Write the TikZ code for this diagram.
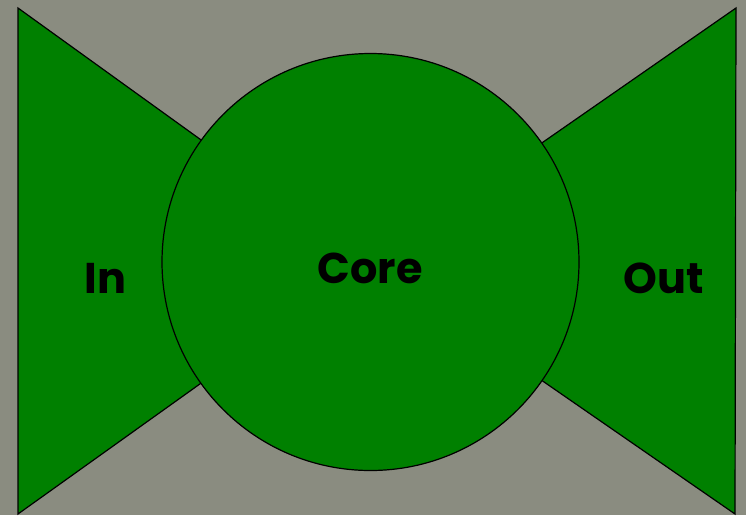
\documentclass[tikz,border=0pt]{standalone}
\usepackage{fontspec}
\setmainfont{Poppins}
\usepackage{xcolor}
\definecolor{stone}{RGB}{138,140,128}
\definecolor{leaf}{RGB}{0,128,0}

\begin{document}
\begin{tikzpicture}[x=1pt,y=-1pt,line join=miter]
\fill[stone] (0,0) rectangle (746,515);
\useasboundingbox (0,0) rectangle (746,515);
\coordinate (mid) at (370.5,262);
\coordinate (lt) at (18,8);
\coordinate (lb) at (18,514);
\coordinate (rt) at (736,8);
\coordinate (rb) at (735,514);
\filldraw[fill=leaf,draw=black,line width=1.2pt] (lt) -- (lb) -- (mid) -- cycle;
\filldraw[fill=leaf,draw=black,line width=1.2pt] (rt) -- (rb) -- (mid) -- cycle;
\draw (370.5,262) node[minimum size=417pt,inner sep=0pt,draw,circle,fill=leaf,line width=1.2pt](core) {};
\draw (370,283) node[anchor=base,font=\fontsize{43}{43}\selectfont\bfseries](lblcore) {Core};
\draw (105.5,293) node[anchor=base,font=\fontsize{43}{43}\selectfont\bfseries](lblin) {In};
\draw (663.5,293) node[anchor=base,font=\fontsize{43}{43}\selectfont\bfseries](lblout) {Out};
\end{tikzpicture}
\end{document}
